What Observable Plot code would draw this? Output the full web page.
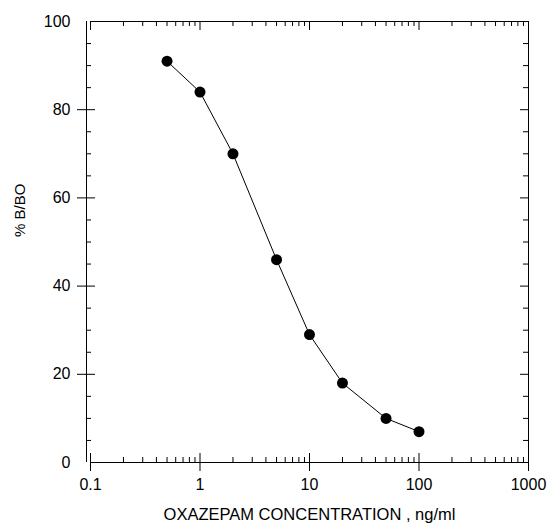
<!DOCTYPE html>
<html>
<head>
<meta charset="utf-8">
<script src="https://cdn.jsdelivr.net/npm/d3@7"></script>
<script src="https://cdn.jsdelivr.net/npm/@observablehq/plot@0.6"></script>
<style>
  html, body { margin: 0; padding: 0; background: #fff; }
</style>
</head>
<body>
<div id="chart"></div>
<script>
const concentration = [0.5, 1, 2, 5, 10, 20, 50, 100];
const percentB = [91, 84, 70, 46, 29, 18, 10, 7];
const xTickValues = [0.1, 1, 10, 100, 1000];
const xTickLabels = ["0.1", "1", "10", "100", "1000"];
const yTickValues = [0, 20, 40, 60, 80, 100];
const yTickLabels = ["0", "20", "40", "60", "80", "100"];
const xTitle = "OXAZEPAM CONCENTRATION , ng/ml";
const yTitle = "% B/BO";

const data = concentration.map((c, i) => ({c, b: percentB[i]}));
const xMinor = [];
for (const base of [0.1, 1, 10, 100]) for (let k = 2; k <= 9; k++) xMinor.push(+(base * k).toPrecision(3));
const yMinor = d3.range(5, 100, 5).filter(v => v % 20 !== 0);
const yInner = yTickValues.filter(v => v > 0 && v < 100);
const xLab = xTickValues.map((v, i) => ({v, t: xTickLabels[i]}));
const yLab = yTickValues.map((v, i) => ({v, t: yTickLabels[i]}));

const font = "'Liberation Sans', Arial, Helvetica, sans-serif";

const chart = Plot.plot({
  width: 548,
  height: 529,
  marginLeft: 90,
  marginRight: 20,
  marginTop: 21,
  marginBottom: 67,
  style: {fontFamily: font, background: "#fff", color: "#000"},
  x: {type: "log", domain: [0.1, 1000], axis: null},
  y: {domain: [0, 100], axis: null},
  marks: [
    // frame lines
    Plot.ruleX([0.1], {stroke: "#000", dx: -4}),
    Plot.ruleY([0], {stroke: "#000"}),
    Plot.ruleY([100], {stroke: "#000"}),
    Plot.ruleX([1000], {stroke: "#000"}),
    // bottom ticks
    Plot.ruleX(xTickValues, {stroke: "#000", insetTop: 432, insetBottom: -9}),
    Plot.ruleX(xMinor, {stroke: "#000", insetTop: 436}),
    // top ticks
    Plot.ruleX(xTickValues, {stroke: "#000", insetBottom: 432}),
    Plot.ruleX(xMinor, {stroke: "#000", insetBottom: 436}),
    // left ticks
    Plot.ruleY(yInner, {stroke: "#000", insetLeft: -13, insetRight: 433}),
    Plot.ruleY(yMinor, {stroke: "#000", insetLeft: -4, insetRight: 437}),
    // right ticks
    Plot.ruleY(yInner, {stroke: "#000", insetLeft: 430}),
    Plot.ruleY(yMinor, {stroke: "#000", insetLeft: 433}),
    // tick labels
    Plot.text(xLab, {x: "v", text: "t", frameAnchor: "bottom", dy: 27, fontSize: 16, fill: "#000"}),
    Plot.text(yLab, {y: "v", text: "t", frameAnchor: "left", dx: -20, textAnchor: "end", fontSize: 16, fill: "#000"}),
    // titles
    Plot.text([xTitle], {frameAnchor: "bottom", dy: 57, fontSize: 16.5, fill: "#000"}),
    Plot.text([yTitle], {frameAnchor: "left", dx: -70, dy: -5, rotate: -90, fontSize: 15, fill: "#000"}),
    // data
    Plot.line(data, {x: "c", y: "b", stroke: "#000", strokeWidth: 1}),
    Plot.dot(data, {x: "c", y: "b", r: 5.5, fill: "#000", stroke: "none"})
  ]
});
document.getElementById("chart").appendChild(chart);
</script>
</body>
</html>
